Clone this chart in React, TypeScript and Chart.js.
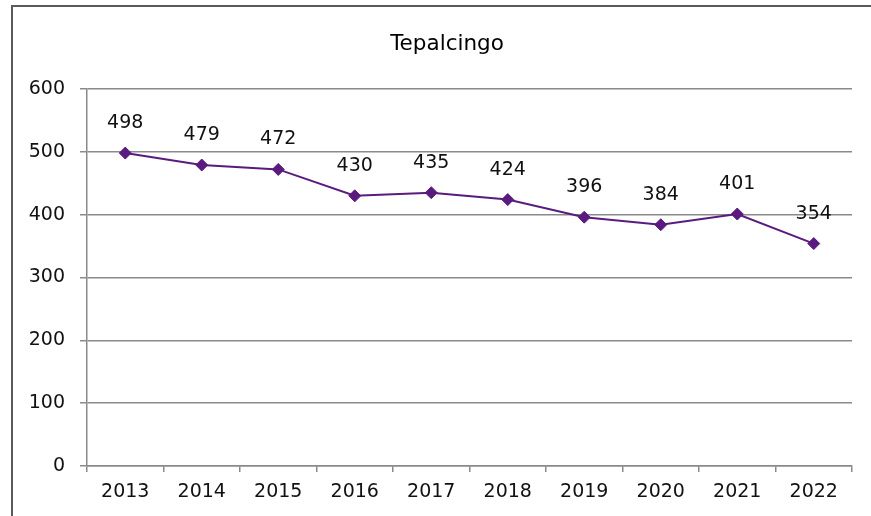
import React, { useEffect, useRef } from "react";
import { Chart, registerables } from "chart.js";

Chart.register(...registerables);

const TITLE = "Tepalcingo";
const YEARS = ["2013", "2014", "2015", "2016", "2017", "2018", "2019", "2020", "2021", "2022"];
const VALUES = [498, 479, 472, 430, 435, 424, 396, 384, 401, 354];
const Y_MIN = 0;
const Y_MAX = 600;
const Y_STEP = 100;

const LINE_COLOR = "#5b1a7e";
const GRID_COLOR = "#8a8a8a";
const FONT = "'DejaVu Sans', sans-serif";

const frame = {
  id: "frame",
  afterDraw(chart: any) {
    const ctx = chart.ctx;
    ctx.save();
    ctx.strokeStyle = "#5a5a5a";
    ctx.lineWidth = 2;
    ctx.beginPath();
    ctx.moveTo(12, chart.height);
    ctx.lineTo(12, 6);
    ctx.lineTo(chart.width, 6);
    ctx.stroke();
    // title
    ctx.font = `21.5px ${FONT}`;
    ctx.fillStyle = "#000000";
    ctx.textAlign = "center";
    ctx.textBaseline = "alphabetic";
    ctx.fillText(TITLE, 447, 50);
    ctx.restore();
  },
};

const dataLabels = {
  id: "dataLabels",
  afterDatasetsDraw(chart: any) {
    const ctx = chart.ctx;
    const meta = chart.getDatasetMeta(0);
    const data = chart.data.datasets[0].data as number[];
    ctx.save();
    ctx.font = `19px ${FONT}`;
    ctx.fillStyle = "#111111";
    ctx.textAlign = "center";
    ctx.textBaseline = "middle";
    meta.data.forEach((pt: any, i: number) => {
      ctx.fillText(String(data[i]), pt.x, pt.y - 30);
    });
    ctx.restore();
  },
};

export default function App() {
  const ref = useRef<HTMLCanvasElement | null>(null);
  useEffect(() => {
    if (!ref.current) return;
    const chart = new Chart(ref.current, {
      type: "line",
      data: {
        labels: YEARS,
        datasets: [
          {
            data: VALUES,
            borderColor: LINE_COLOR,
            backgroundColor: LINE_COLOR,
            borderWidth: 2,
            tension: 0,
            pointStyle: "rectRot",
            pointRadius: 6,
            pointBackgroundColor: LINE_COLOR,
            pointBorderColor: LINE_COLOR,
            pointBorderWidth: 1,
          },
        ],
      },
      options: {
        responsive: false,
        animation: false,
        layout: { padding: { top: 89, right: 19, bottom: 0, left: 0 } },
        plugins: {
          legend: { display: false },
          tooltip: { enabled: false },
          title: { display: false },
        },
        scales: {
          x: {
            type: "category",
            offset: true,
            grid: {
              display: true,
              offset: true,
              drawOnChartArea: false,
              drawTicks: true,
              tickLength: 6,
              color: GRID_COLOR,
              lineWidth: 1.5,
            },
            border: { display: true, color: GRID_COLOR, width: 1.5 },
            ticks: {
              color: "#111111",
              font: { family: FONT, size: 19 },
              padding: 9,
              maxRotation: 0,
              autoSkip: false,
            },
            afterFit(scale: any) {
              scale.height = 50;
            },
          },
          y: {
            min: Y_MIN,
            max: Y_MAX,
            ticks: {
              stepSize: Y_STEP,
              color: "#111111",
              font: { family: FONT, size: 19 },
              padding: 15,
            },
            grid: {
              color: GRID_COLOR,
              lineWidth: 1.5,
              tickLength: 7,
            },
            border: { display: true, color: GRID_COLOR, width: 1.5 },
            afterFit(scale: any) {
              scale.width = 87;
            },
          },
        },
      },
      plugins: [frame, dataLabels],
    });
    return () => chart.destroy();
  }, []);
  return (
    <div style={{ position: "absolute", left: 0, top: 0, width: 871, height: 516, background: "#ffffff" }}>
      <canvas ref={ref} width={871} height={516} />
    </div>
  );
}
